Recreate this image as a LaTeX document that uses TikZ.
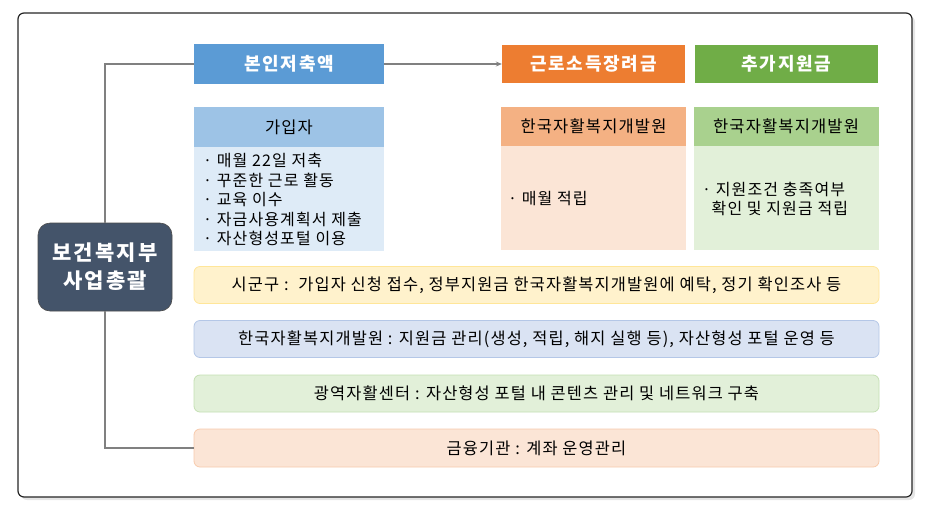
\documentclass[tikz,border=0pt]{standalone}
\usepackage{fontspec}
\setmainfont{Noto Sans CJK KR}
\newfontfamily\kbody[LetterSpace=7]{Noto Sans CJK KR}
\newfontfamily\khead[LetterSpace=10]{Noto Sans CJK KR}
\usetikzlibrary{arrows.meta}
\definecolor{hdblue}{HTML}{5B9BD5}
\definecolor{hdorange}{HTML}{ED7D31}
\definecolor{hdgreen}{HTML}{70AD47}
\definecolor{subblue}{HTML}{9DC3E6}
\definecolor{bodyblue}{HTML}{DEEBF7}
\definecolor{suborange}{HTML}{F4B183}
\definecolor{bodyorange}{HTML}{FBE5D6}
\definecolor{subgreen}{HTML}{A9D18E}
\definecolor{bodygreen}{HTML}{E2F0D9}
\definecolor{baryellow}{HTML}{FFF2CC}
\definecolor{baryellowline}{HTML}{FFE699}
\definecolor{barblue}{HTML}{DAE3F3}
\definecolor{barblueline}{HTML}{B4C7E7}
\definecolor{bargreenline}{HTML}{C5E0B4}
\definecolor{barorangeline}{HTML}{F8CBAD}
\definecolor{slate}{HTML}{44546A}
\definecolor{conn}{HTML}{808080}
\tikzset{
  hdbox/.style={minimum width=190pt, minimum height=40pt, inner sep=0pt, text=white, font=\khead\fontsize{18}{20}\selectfont\bfseries},
  subbox/.style={minimum height=40pt, inner sep=0pt, font=\kbody\fontsize{16.5}{18}\selectfont},
  bodybox/.style={inner sep=0pt},
  bodytext/.style={anchor=west, inner sep=0pt, font=\kbody\fontsize{16}{18}\selectfont},
  barbox/.style={minimum width=685pt, minimum height=37pt, inner sep=0pt, rounded corners=6pt, line width=0.8pt},
  bartext/.style={inner sep=0pt, font=\kbody\fontsize{16.4}{18}\selectfont},
  connline/.style={draw=conn, line width=1.5pt},
}
\begin{document}
\begin{tikzpicture}[x=1pt,y=-1pt]
\useasboundingbox (0,0) rectangle (933,512);
% frame with shadow
\fill[black!10, rounded corners=6pt] (21,16) rectangle (915,500);
\draw[fill=white, draw=black!85, line width=1.2pt, rounded corners=6pt] (18,13) rectangle (912,497);

% headers
\node[hdbox, fill=hdblue] (h1) at (289,64) {본인저축액};
\node[hdbox, fill=hdorange, minimum width=183pt, minimum height=38pt] (h2) at (593.5,64) {근로소득장려금};
\node[hdbox, fill=hdgreen, minimum width=183pt, minimum height=38pt] (h3) at (786.5,64) {추가지원금};

% sub columns
\node[bodybox, fill=bodyblue, minimum width=190pt, minimum height=104pt] (b1) at (289,199) {};
\node[subbox, fill=subblue, minimum width=190pt] (s1) at (289,127) {가입자};
\node[bodybox, fill=bodyorange, minimum width=185pt, minimum height=104pt] (b2) at (593.5,198) {};
\node[subbox, fill=suborange, minimum width=185pt, minimum height=39pt] (s2) at (593.5,126.5) {한국자활복지개발원};
\node[bodybox, fill=bodygreen, minimum width=185pt, minimum height=104pt] (b3) at (786,198) {};
\node[subbox, fill=subgreen, minimum width=185pt, minimum height=39pt] (s3) at (786,126.5) {한국자활복지개발원};

\node[bodytext] (t11) at (203,160) {· 매월 22일 저축};
\node[bodytext] (t12) at (203,180) {· 꾸준한 근로 활동};
\node[bodytext] (t13) at (203,199.5) {· 교육 이수};
\node[bodytext] (t14) at (203,219) {· 자금사용계획서 제출};
\node[bodytext] (t15) at (203,238.5) {· 자산형성포털 이용};
\node[bodytext] (t21) at (508,199) {· 매월 적립};
\node[bodytext] (t31) at (702,189.5) {· 지원조건 충족여부};
\node[bodytext] (t32) at (711.5,208.5) {확인 및 지원금 적립};

% bars
\node[barbox, fill=baryellow, draw=baryellowline] (r1) at (536.5,285) {};
\node[bartext] (l1) at (r1.center) {시군구 :\ \ 가입자 신청 접수, 정부지원금 한국자활복지개발원에 예탁, 정기 확인조사 등};
\node[barbox, fill=barblue, draw=barblueline] (r2) at (536.5,339) {};
\node[bartext] (l2) at (r2.center) {한국자활복지개발원 : 지원금 관리(생성, 적립, 해지 실행 등), 자산형성 포털 운영 등};
\node[barbox, fill=bodygreen, draw=bargreenline] (r3) at (536.5,393.5) {};
\node[bartext] (l3) at (r3.center) {광역자활센터 : 자산형성 포털 내 콘텐츠 관리 및 네트워크 구축};
\node[barbox, fill=bodyorange, draw=barorangeline, minimum height=38pt] (r4) at (536.5,448) {};
\node[bartext] (l4) at (r4.center) {금융기관 : 계좌 운영관리};

% central node
\node[fill=slate, draw=black!70, line width=0.6pt, rounded corners=12pt, minimum width=134pt, minimum height=88pt, inner sep=0pt, text=white, align=center, font=\khead\fontsize{21}{28}\selectfont\bfseries] (c) at (105,267) {보건복지부\\사업총괄};

% connectors
\coordinate (topturn) at (105,64);
\coordinate (botturn) at (105,448);
\draw[connline] (c.north) -- (topturn) -- (h1.west);
\draw[connline] (c.south) -- (botturn) -- (r4.west);
\draw[connline, -{Stealth[length=6pt,width=5pt]}] (h1.east) -- (h2.west);
\end{tikzpicture}
\end{document}
